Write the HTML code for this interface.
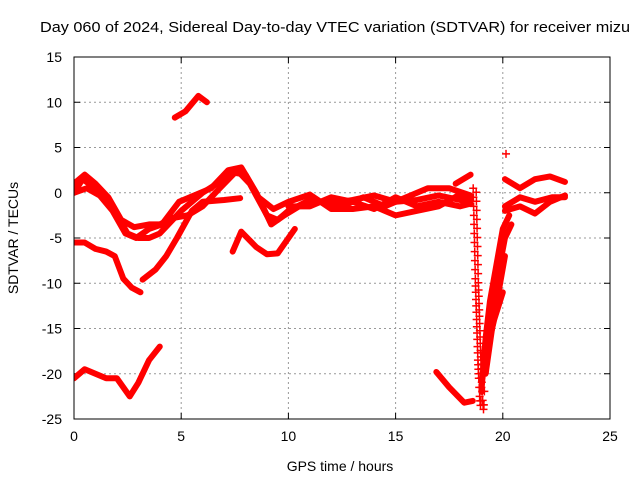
<!DOCTYPE html>
<html><head><meta charset="utf-8"><style>
body{margin:0;background:#fff;}
svg{display:block;font-family:"Liberation Sans",sans-serif;}
</style></head><body>
<svg id="chart" width="640" height="480" xmlns="http://www.w3.org/2000/svg">
<text x="40" y="32" font-size="15" textLength="590" lengthAdjust="spacingAndGlyphs">Day 060 of 2024, Sidereal Day-to-day VTEC variation (SDTVAR) for receiver mizu</text>
<g id="grid"></g>
<g id="ticks"></g>
<g id="series" clip-path="url(#clip)"></g>
<defs><clipPath id="clip"><rect x="74" y="57" width="536" height="362"/></clipPath></defs>
<rect x="74" y="57" width="536" height="362" fill="none" stroke="#000" stroke-width="1"/>
<text x="340" y="471" font-size="14" text-anchor="middle">GPS time / hours</text>
<text transform="translate(18,238) rotate(-90)" font-size="14" text-anchor="middle">SDTVAR / TECUs</text>
</svg>
<script>
const xTicks=[0,5,10,15,20,25];
const yTicks=[15,10,5,0,-5,-10,-15,-20,-25];
const trackTop=[[4.7,8.3],[5.2,9],[5.8,10.7],[6.2,10]];
const trackBottomLeft=[[0,-20.5],[0.5,-19.5],[1.0,-20],[1.5,-20.5],[2.0,-20.5],[2.6,-22.5],[3.0,-21],[3.5,-18.5],[4.0,-17]];
const trackMinus5=[[0,-5.5],[0.5,-5.5],[1,-6.2],[1.5,-6.5],[1.9,-7],[2.3,-9.5],[2.7,-10.5],[3.1,-11]];
const trackRise=[[3.2,-9.6],[3.8,-8.5],[4.3,-7],[4.8,-5],[5.5,-2],[6,-1],[7,-0.8],[7.75,-0.6]];
const bundleA=[[0,0],[0.4,1.5],[1,0.5],[1.5,-1],[2,-2.5],[2.5,-4.5],[3,-5],[3.5,-5],[4,-4.5],[5,-2],[6,0],[7,1.5],[7.6,2.5],[8.2,1],[9,-2.5],[9.5,-3],[10,-2],[11,-0.8],[12,-1.2],[13,-0.8],[14,-0.3],[15,-1],[16,-0.8],[17,-0.3],[18,-0.8],[18.5,-0.8]];
const bundleB=[[0,1],[0.5,2],[1,1],[1.6,-0.5],[2.2,-3],[2.8,-3.8],[3.5,-3.5],[4,-3.5],[4.6,-2.8],[5.3,-2.5],[6,-1.5],[6.8,0.5],[7.5,2.2],[8,2],[8.6,-0.5],[9.3,-1.8],[10,-1],[11,-0.2],[12,-1.8],[13,-1.8],[14,-1.5],[15,-2.5],[16,-2],[17,-1.5],[18,-0.2],[18.5,-0.5]];
const bundleC=[[0,0],[0.6,0.5],[1.2,-0.3],[1.8,-2],[2.4,-4.5],[2.9,-5],[3.5,-4],[4.1,-3.5],[4.9,-1],[5.6,-0.3],[6.4,0.5],[7.2,2.5],[7.8,2.8],[8.5,0],[9.2,-3.5],[9.8,-2.5],[10.5,-1.5],[11.5,-1],[12.5,-1.5],[13.5,-0.5],[14.5,-1.5],[15.5,-0.5],[16.5,0.5],[17.5,0.5],[18.5,-0.3]];
const bundleD=[[10,-1.5],[11,-1.5],[12,-0.5],[13,-1],[14,-1.8],[15,-0.5],[16,-1.5],[17,-1],[18,-1.5],[18.5,-1.2]];
const trackV2=[[7.4,-6.5],[7.8,-4.3],[8.5,-6],[9,-6.8],[9.5,-6.7],[10.3,-4]];
const trackLate=[[16.9,-19.8],[17.5,-21.5],[18.2,-23.2],[18.6,-23]];
const trackSmall=[[17.8,1],[18.5,2]];
const spikeHours=[18.62,18.63,18.64,18.65,18.66,18.67,18.68,18.69,18.7,18.71,18.72,18.73,18.74,18.75,18.76,18.77,18.78,18.79,18.8,18.81,18.82,18.83,18.84,18.85,18.86,18.87,18.88,18.9,18.92,18.94,18.96,18.98,19.0,19.02];
const spikeValues=[0.5,-0.5,-1.5,-2.5,-3.5,-4.5,-5.5,-6.5,-7.5,-8.5,-9.5,-10.3,-11,-11.8,-12.5,-13.2,-14,-14.8,-15.5,-16.2,-17,-17.7,-18.5,-19,-19.5,-20,-20.5,-21.5,-22.5,-23,-23.5,-23,-21.5,-19.5];
const riseA=[[19.0,-22],[19.2,-16],[19.4,-12],[19.7,-8],[20,-4],[20.3,-2.5]];
const riseB=[[19.1,-18],[19.4,-14],[19.7,-10],[20.1,-5],[20.4,-3.5]];
const riseC=[[19.3,-17],[19.6,-14],[20,-11]];
const riseD=[[19.2,-20],[19.5,-15],[19.8,-11],[20.1,-7]];
const rightA=[[20.1,1.5],[20.8,0.5],[21.5,1.5],[22.2,1.8],[22.9,1.2]];
const rightB=[[20.1,-1.5],[20.8,-0.5],[21.5,-1],[22.3,-0.5],[22.9,-0.5]];
const rightC=[[20.1,-2],[20.8,-1.5],[21.5,-2.3],[22.2,-1],[22.9,-0.3]];
const singlePoint=[[20.15,4.3]];

const X0=74,X1=610,Y0=57,Y1=419;
const xs=h=>X0+(h-0)/25*(X1-X0);
const ys=v=>Y0+(15-v)/40*(Y1-Y0);
const NS="http://www.w3.org/2000/svg";
const grid=document.getElementById('grid'),ticks=document.getElementById('ticks'),ser=document.getElementById('series');
function mk(t,a,p){const e=document.createElementNS(NS,t);for(const k in a)e.setAttribute(k,a[k]);p.appendChild(e);return e;}
xTicks.forEach(t=>{
  const x=xs(t);
  if(t>0&&t<25){const g=mk('line',{x1:x,x2:x,y1:Y0,y2:Y1,stroke:'#999','stroke-dasharray':'2,3'},grid);
  
  }
  mk('line',{x1:x,x2:x,y1:Y1,y2:Y1-6,stroke:'#000'},ticks);
  mk('line',{x1:x,x2:x,y1:Y0,y2:Y0+6,stroke:'#000'},ticks);
  const l=mk('text',{x:x,y:Y1+22,'font-size':14,'text-anchor':'middle'},ticks);l.textContent=t;
  
  
});
yTicks.forEach(t=>{
  const y=ys(t);
  if(t<15&&t>-25){const g=mk('line',{x1:X0,x2:X1,y1:y,y2:y,stroke:'#999','stroke-dasharray':'2,3'},grid);
  
  }
  mk('line',{x1:X0,x2:X0+6,y1:y,y2:y,stroke:'#000'},ticks);
  mk('line',{x1:X1,x2:X1-6,y1:y,y2:y,stroke:'#000'},ticks);
  const l=mk('text',{x:X0-12,y:y+5,'font-size':14,'text-anchor':'end'},ticks);l.textContent=t;
  
  
});
const tracks=[trackTop,trackBottomLeft,trackMinus5,trackRise,bundleA,bundleB,bundleC,bundleD,trackV2,trackLate,trackSmall,riseA,riseB,riseC,riseD,rightA,rightB,rightC];
tracks.forEach(tr=>{
  const p=mk('polyline',{points:tr.map(d=>xs(d[0])+','+ys(d[1])).join(' '),fill:'none',stroke:'#f00','stroke-width':6,'stroke-linejoin':'round','stroke-linecap':'round'},ser);
  
  
});
function plus(x,y){const p=mk('path',{d:`M${x-4},${y}h8M${x},${y-4}v8`,stroke:'#f00','stroke-width':1.5},ser);
  
  }
spikeHours.forEach((h,i)=>{plus(xs(h),ys(spikeValues[i]));plus(xs(h)+3,ys(spikeValues[i])+4);});
singlePoint.forEach(d=>plus(xs(d[0]),ys(d[1])));
</script>
</body></html>
